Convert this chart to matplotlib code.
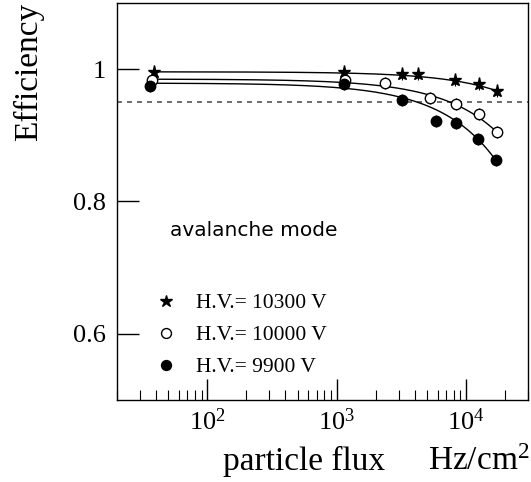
import matplotlib.pyplot as plt
import numpy as np

plt.rcParams['font.family'] = ['Liberation Serif', 'DejaVu Serif']
plt.rcParams['mathtext.fontset'] = 'custom'
plt.rcParams['mathtext.rm'] = 'Liberation Serif'
plt.rcParams['mathtext.it'] = 'Liberation Serif:italic'

# H.V. = 10300 V (stars)
flux_10300 = [38.7, 1140, 3180, 4270, 8130, 12600, 17400]
eff_10300 = [0.996, 0.995, 0.993, 0.993, 0.984, 0.978, 0.967]
# H.V. = 10000 V (open circles)
flux_10000 = [37.6, 1150, 2340, 5250, 8380, 12500, 17200]
eff_10000 = [0.984, 0.984, 0.979, 0.957, 0.947, 0.932, 0.905]
# H.V. = 9900 V (filled circles)
flux_9900 = [35.8, 1140, 3180, 5850, 8340, 12400, 17000]
eff_9900 = [0.975, 0.978, 0.954, 0.922, 0.919, 0.894, 0.862]
eff_err = 0.009

# fit parameters: eff = e0 * (1 - flux / x0)
fit_e0 = [0.996, 0.985, 0.979]
fit_x0 = [598000, 212000, 142000]

labels = ['H.V.= 10300 V', 'H.V.= 10000 V', 'H.V.= 9900 V']

fig = plt.figure(figsize=(5.31, 4.82), dpi=100)
ax = fig.add_axes([117 / 531, 82 / 482, 411 / 531, 397 / 482])

series = [(flux_10300, eff_10300), (flux_10000, eff_10000), (flux_9900, eff_9900)]
styles = [dict(marker='*', ms=9.5, mfc='k', mec='k'),
          dict(marker='o', ms=7.5, mfc='white', mec='k', mew=1.0),
          dict(marker='o', ms=7.5, mfc='k', mec='k')]

for (fx, fe), e0, x0 in zip(series, fit_e0, fit_x0):
    xs = np.logspace(np.log10(fx[0]), np.log10(fx[-1]), 200)
    ax.plot(xs, e0 * (1 - xs / x0), color='k', lw=1.0, zorder=2)

handles = []
for (fx, fe), st, lab in zip(series, styles, labels):
    ax.errorbar(fx, fe, yerr=eff_err, fmt='none', ecolor='k', elinewidth=0.8, zorder=3)
    h, = ax.plot(fx, fe, ls='none', zorder=4, label=lab, **st)
    handles.append(h)

ax.axhline(0.95, color='#555555', ls=(0, (3, 3)), lw=1.2, zorder=1)

ax.set_xscale('log')
ax.set_xlim(20, 3e4)
ax.set_ylim(0.5, 1.1)
ax.set_yticks([0.6, 0.8, 1.0])
ax.set_yticklabels(['0.6', '0.8', '1'])
ax.set_xticks([1e2, 1e3, 1e4])
ax.set_xticklabels(['$10^{2}$', '$10^{3}$', '$10^{4}$'])
ax.tick_params(which='both', direction='in', top=False, right=False, labelsize=19)
ax.tick_params(axis='y', which='major', length=16, width=1, pad=8)
ax.tick_params(axis='x', which='major', length=15, width=1, pad=6)
ax.tick_params(axis='x', which='minor', length=7, width=0.8)
ax.tick_params(axis='y', which='minor', left=False)
for sp in ax.spines.values():
    sp.set_linewidth(1.0)

ax.text((170 - 117) / 411, 0.756, 'avalanche mode', fontsize=14.5, family='DejaVu Sans',
        ha='left', va='center', transform=ax.get_yaxis_transform())

leg = ax.legend(handles=handles, loc='lower left', bbox_to_anchor=(0.047, 0.008),
                frameon=False, fontsize=15.5, handletextpad=0.85, labelspacing=0.56,
                handlelength=1.0, markerscale=0.95)

fig.text(29 / 531, 1 - 3 / 482, 'Efficiency', rotation=90, ha='center', va='top', fontsize=24)
fig.text(223 / 531, 1 - 470 / 482, 'particle flux', ha='left', va='baseline', fontsize=24)
fig.text(428 / 531, 1 - 470 / 482, 'Hz/cm$^{2}$', ha='left', va='baseline', fontsize=24)

fig.savefig('out.png', dpi=100)
